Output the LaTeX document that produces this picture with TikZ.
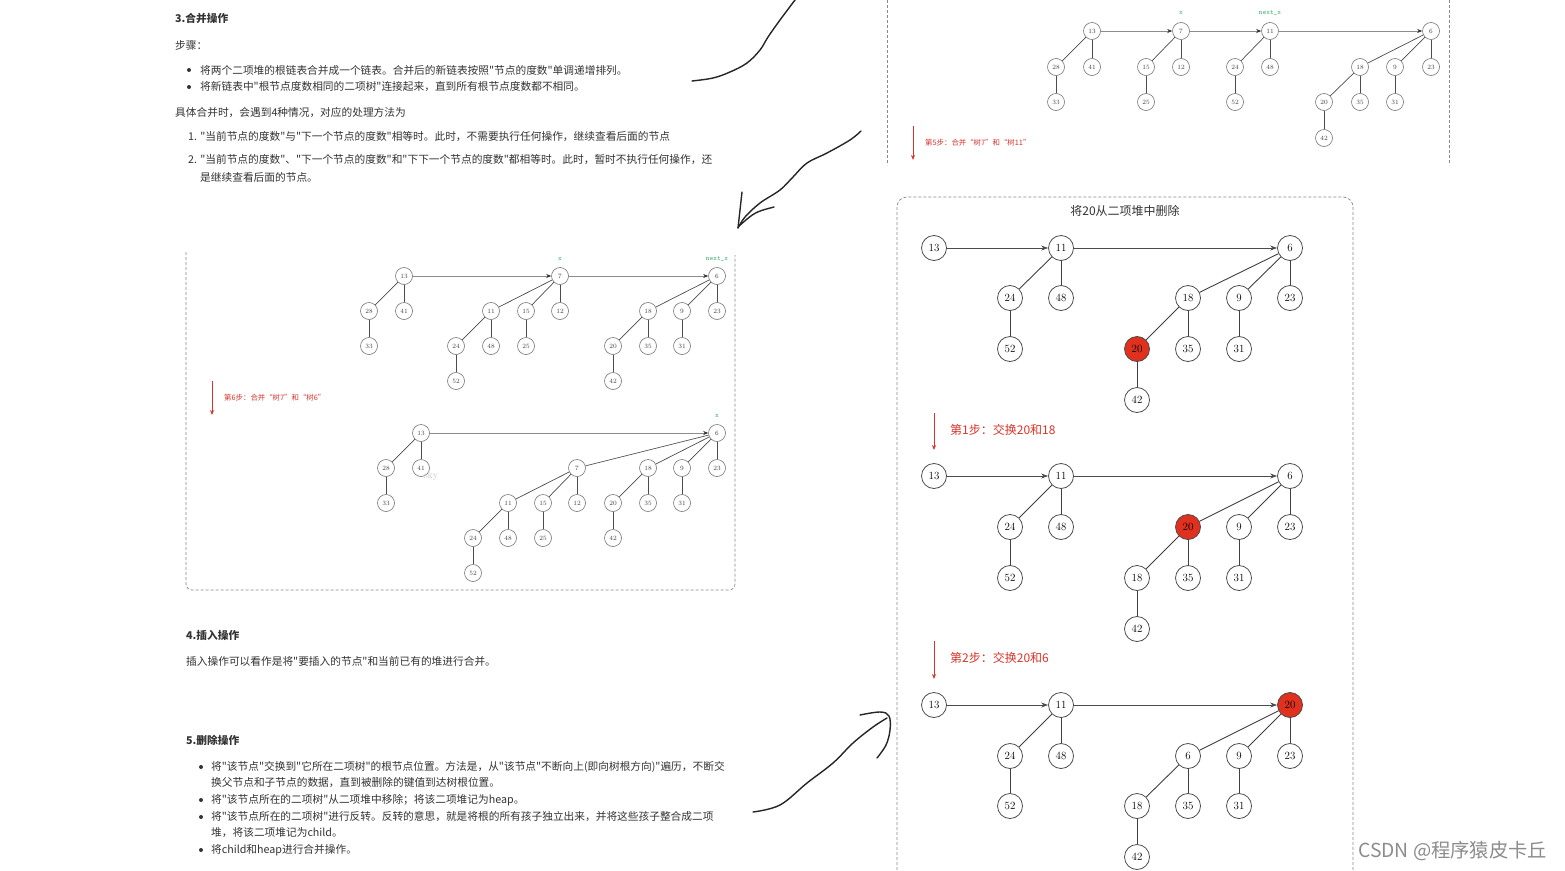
\documentclass[tikz,border=0pt]{standalone}
\usepackage{fontspec}
\newfontfamily\cjk{Noto Sans CJK SC}
\usetikzlibrary{arrows.meta}
\definecolor{txt}{HTML}{333333}
\definecolor{grn}{HTML}{3CB371}
\definecolor{stepred}{HTML}{D9352B}
\definecolor{nodered}{HTML}{E0301E}
\definecolor{dashc}{HTML}{888888}
\tikzset{
 sn/.style={circle,draw=black!55,line width=0.6pt,minimum size=17pt,inner sep=0pt,fill=white,font=\fontsize{6.5}{7}\selectfont,text=black!75},
 bn/.style={circle,draw=black!70,line width=0.8pt,minimum size=25pt,inner sep=0pt,fill=white,font=\fontsize{11}{11}\selectfont},
 rn/.style={bn,fill=nodered},
 se/.style={draw=black!70,line width=0.7pt},
 be/.style={draw=black!75,line width=0.9pt},
 sa/.style={draw=black!45,line width=0.6pt,-{Stealth[length=5pt,width=4pt,black!80]}},
 ba/.style={draw=black!70,line width=0.7pt,-{Stealth[length=7pt,width=5pt]}},
 stp/.style={draw=stepred,line width=0.9pt,-{Stealth[length=5pt,width=4pt]}},
 lbl/.style={anchor=west,text=txt,font=\cjk\fontsize{10.7}{10.7}\selectfont,inner sep=0pt},
 hd/.style={lbl,font=\cjk\bfseries\fontsize{10.7}{10.7}\selectfont},
 gl/.style={text=grn,font=\ttfamily\fontsize{7}{7}\selectfont,inner sep=0pt},
 sl/.style={anchor=west,text=stepred,font=\cjk\fontsize{7.4}{7.4}\selectfont,inner sep=0pt},
 bl/.style={anchor=west,text=stepred,font=\cjk\fontsize{12}{12}\selectfont,inner sep=0pt},
 bx/.style={draw=dashc,line width=0.7pt,dash pattern=on 3pt off 2pt},
 pen/.style={draw=black!85,line width=1.4pt,line cap=round,line join=round},
 bul/.style={circle,fill=txt,inner sep=0pt,minimum size=4pt}
}
\begin{document}
\begin{tikzpicture}[x=1pt,y=-1pt]
\useasboundingbox (0,0) rectangle (1565,870);
\fill[white] (0,0) rectangle (1565,870);

% ---------- top-left text ----------
\node[hd] (h3) at (175,18) {3.合并操作};
\node[lbl] (bz) at (175,45) {步骤：};
\node[bul] (d1) at (189,70) {};
\node[lbl] (t1) at (200,70) {将两个二项堆的根链表合并成一个链表。合并后的新链表按照"节点的度数"单调递增排列。};
\node[bul] (d2) at (189,87) {};
\node[lbl] (t2) at (200,87) {将新链表中"根节点度数相同的二项树"连接起来，直到所有根节点度数都不相同。};
\node[lbl] (t3) at (175,113) {具体合并时，会遇到4种情况，对应的处理方法为};
\node[lbl] (t4) at (188,137) {1. "当前节点的度数"与"下一个节点的度数"相等时。此时，不需要执行任何操作，继续查看后面的节点};
\node[lbl] (t5) at (188,160) {2. "当前节点的度数"、"下一个节点的度数"和"下下一个节点的度数"都相等时。此时，暂时不执行任何操作，还};
\node[lbl] (t6) at (200,177) {是继续查看后面的节点。};

% ---------- left dashed box ----------
\draw[bx,rounded corners=6pt] (186,252) -- (186,590) -- (735,590) -- (735,255);

% tree A
\node[sn] (a13) at (404,276) {13};
\node[sn] (a28) at (369,311) {28};
\node[sn] (a41) at (404,311) {41};
\node[sn] (a33) at (369,346) {33};
\node[sn] (a7) at (560,276) {7};
\node[sn] (a11) at (491,311) {11};
\node[sn] (a15) at (526,311) {15};
\node[sn] (a12) at (560,311) {12};
\node[sn] (a24) at (456,346) {24};
\node[sn] (a48) at (491,346) {48};
\node[sn] (a52) at (456,381) {52};
\node[sn] (a25) at (526,346) {25};
\node[sn] (a6) at (717,276) {6};
\node[sn] (a18) at (648,311) {18};
\node[sn] (a9) at (682,311) {9};
\node[sn] (a23) at (717,311) {23};
\node[sn] (a20) at (613,346) {20};
\node[sn] (a35) at (648,346) {35};
\node[sn] (a42) at (613,381) {42};
\node[sn] (a31) at (682,346) {31};
\draw[sa] (a13) -- (a7);
\draw[sa] (a7) -- (a6);
\draw[se] (a13) -- (a28); \draw[se] (a13) -- (a41); \draw[se] (a28) -- (a33);
\draw[se] (a7) -- (a11); \draw[se] (a7) -- (a15); \draw[se] (a7) -- (a12);
\draw[se] (a11) -- (a24); \draw[se] (a11) -- (a48); \draw[se] (a24) -- (a52); \draw[se] (a15) -- (a25);
\draw[se] (a6) -- (a18); \draw[se] (a6) -- (a9); \draw[se] (a6) -- (a23);
\draw[se] (a18) -- (a20); \draw[se] (a18) -- (a35); \draw[se] (a20) -- (a42); \draw[se] (a9) -- (a31);
\node[gl] (ax) at (560,259) {x};
\node[gl] (anx) at (717,259) {next\_x};
\coordinate (s6a) at (212,381); \coordinate (s6b) at (212,415);
\draw[stp] (s6a) -- (s6b);
\node[sl] (s6l) at (224,398) {第6步：合并“树7”和“树6”};

% tree B
\node[sn] (b13) at (421,433) {13};
\node[sn] (b28) at (386,468) {28};
\node[sn] (b41) at (421,468) {41};
\node[sn] (b33) at (386,503) {33};
\node[sn] (b6) at (717,433) {6};
\node[sn] (b7) at (577,468) {7};
\node[sn] (b18) at (648,468) {18};
\node[sn] (b9) at (682,468) {9};
\node[sn] (b23) at (717,468) {23};
\node[sn] (b11) at (508,503) {11};
\node[sn] (b15) at (543,503) {15};
\node[sn] (b12) at (577,503) {12};
\node[sn] (b24) at (473,538) {24};
\node[sn] (b48) at (508,538) {48};
\node[sn] (b52) at (473,573) {52};
\node[sn] (b25) at (543,538) {25};
\node[sn] (b20) at (613,503) {20};
\node[sn] (b35) at (648,503) {35};
\node[sn] (b42) at (613,538) {42};
\node[sn] (b31) at (682,503) {31};
\draw[sa] (b13) -- (b6);
\draw[se] (b13) -- (b28); \draw[se] (b13) -- (b41); \draw[se] (b28) -- (b33);
\draw[se] (b6) -- (b7); \draw[se] (b6) -- (b18); \draw[se] (b6) -- (b9); \draw[se] (b6) -- (b23);
\draw[se] (b7) -- (b11); \draw[se] (b7) -- (b15); \draw[se] (b7) -- (b12);
\draw[se] (b11) -- (b24); \draw[se] (b11) -- (b48); \draw[se] (b24) -- (b52); \draw[se] (b15) -- (b25);
\draw[se] (b18) -- (b20); \draw[se] (b18) -- (b35); \draw[se] (b20) -- (b42); \draw[se] (b9) -- (b31);
\node[gl] (bxl) at (717,416) {x};
\node[text=black!22,font=\fontsize{10}{10}\selectfont,inner sep=0pt] (sky) at (431,476) {sky};

% ---------- bottom-left text ----------
\node[hd] (h4) at (186,635) {4.插入操作};
\node[lbl] (u1) at (186,661) {插入操作可以看作是将"要插入的节点"和当前已有的堆进行合并。};
\node[hd] (h5) at (186,740) {5.删除操作};
\node[bul] (e1) at (201,767) {};
\node[lbl] (u2) at (211,767) {将"该节点"交换到"它所在二项树"的根节点位置。方法是，从"该节点"不断向上(即向树根方向)"遍历，不断交};
\node[lbl] (u3) at (211,783) {换父节点和子节点的数据，直到被删除的键值到达树根位置。};
\node[bul] (e2) at (201,800) {};
\node[lbl] (u4) at (211,800) {将"该节点所在的二项树"从二项堆中移除；将该二项堆记为heap。};
\node[bul] (e3) at (201,817) {};
\node[lbl] (u5) at (211,817) {将"该节点所在的二项树"进行反转。反转的意思，就是将根的所有孩子独立出来，并将这些孩子整合成二项};
\node[lbl] (u6) at (211,833) {堆，将该二项堆记为child。};
\node[bul] (e4) at (201,850) {};
\node[lbl] (u7) at (211,850) {将child和heap进行合并操作。};

% ---------- top-right partial box ----------
\draw[bx] (887,0) -- (887,165);
\draw[bx] (1449,0) -- (1449,165);
\node[sn] (c13) at (1092,31) {13};
\node[sn] (c28) at (1056,67) {28};
\node[sn] (c41) at (1092,67) {41};
\node[sn] (c33) at (1056,102) {33};
\node[sn] (c7) at (1181,31) {7};
\node[sn] (c15) at (1146,67) {15};
\node[sn] (c12) at (1181,67) {12};
\node[sn] (c25) at (1146,102) {25};
\node[sn] (c11) at (1270,31) {11};
\node[sn] (c24) at (1235,67) {24};
\node[sn] (c48) at (1270,67) {48};
\node[sn] (c52) at (1235,102) {52};
\node[sn] (c6) at (1431,31) {6};
\node[sn] (c18) at (1360,67) {18};
\node[sn] (c9) at (1395,67) {9};
\node[sn] (c23) at (1431,67) {23};
\node[sn] (c20) at (1324,102) {20};
\node[sn] (c35) at (1360,102) {35};
\node[sn] (c42) at (1324,138) {42};
\node[sn] (c31) at (1395,102) {31};
\draw[sa] (c13) -- (c7);
\draw[sa] (c7) -- (c11);
\draw[sa] (c11) -- (c6);
\draw[se] (c13) -- (c28); \draw[se] (c13) -- (c41); \draw[se] (c28) -- (c33);
\draw[se] (c7) -- (c15); \draw[se] (c7) -- (c12); \draw[se] (c15) -- (c25);
\draw[se] (c11) -- (c24); \draw[se] (c11) -- (c48); \draw[se] (c24) -- (c52);
\draw[se] (c6) -- (c18); \draw[se] (c6) -- (c9); \draw[se] (c6) -- (c23);
\draw[se] (c18) -- (c20); \draw[se] (c18) -- (c35); \draw[se] (c20) -- (c42); \draw[se] (c9) -- (c31);
\node[gl] (cx) at (1181,13) {x};
\node[gl] (cnx) at (1270,13) {next\_x};
\coordinate (s5a) at (913,126); \coordinate (s5b) at (913,160);
\draw[stp] (s5a) -- (s5b);
\node[sl] (s5l) at (925,143) {第5步：合并“树7”和“树11”};

% ---------- right big box ----------
\draw[bx,rounded corners=10pt] (897,870) -- (897,197) -- (1353,197) -- (1353,870);
\node[text=txt,font=\cjk\fontsize{12}{12}\selectfont,inner sep=0pt] (ttl) at (1125,211) {将20从二项堆中删除};

% tree D
\node[bn] (d13) at (934,248) {13};
\node[bn] (d11) at (1061,248) {11};
\node[bn] (d6) at (1290,248) {6};
\node[bn] (d24) at (1010,298) {24};
\node[bn] (d48) at (1061,298) {48};
\node[bn] (d52) at (1010,349) {52};
\node[bn] (d18) at (1188,298) {18};
\node[bn] (d9) at (1239,298) {9};
\node[bn] (d23) at (1290,298) {23};
\node[rn] (d20) at (1137,349) {20};
\node[bn] (d35) at (1188,349) {35};
\node[bn] (d31) at (1239,349) {31};
\node[bn] (d42) at (1137,400) {42};
\draw[ba] (d13) -- (d11); \draw[ba] (d11) -- (d6);
\draw[be] (d11) -- (d24); \draw[be] (d11) -- (d48); \draw[be] (d24) -- (d52);
\draw[be] (d6) -- (d18); \draw[be] (d6) -- (d9); \draw[be] (d6) -- (d23);
\draw[be] (d18) -- (d20); \draw[be] (d18) -- (d35); \draw[be] (d20) -- (d42); \draw[be] (d9) -- (d31);
\coordinate (s1a) at (934,413); \coordinate (s1b) at (934,450);
\draw[stp] (s1a) -- (s1b);
\node[bl] (s1l) at (950,430) {第1步：交换20和18};

% tree E
\node[bn] (e13) at (934,476) {13};
\node[bn] (e11) at (1061,476) {11};
\node[bn] (e6) at (1290,476) {6};
\node[bn] (e24) at (1010,527) {24};
\node[bn] (e48) at (1061,527) {48};
\node[bn] (e52) at (1010,578) {52};
\node[rn] (e20) at (1188,527) {20};
\node[bn] (e9) at (1239,527) {9};
\node[bn] (e23) at (1290,527) {23};
\node[bn] (e18) at (1137,578) {18};
\node[bn] (e35) at (1188,578) {35};
\node[bn] (e31) at (1239,578) {31};
\node[bn] (e42) at (1137,629) {42};
\draw[ba] (e13) -- (e11); \draw[ba] (e11) -- (e6);
\draw[be] (e11) -- (e24); \draw[be] (e11) -- (e48); \draw[be] (e24) -- (e52);
\draw[be] (e6) -- (e20); \draw[be] (e6) -- (e9); \draw[be] (e6) -- (e23);
\draw[be] (e20) -- (e18); \draw[be] (e20) -- (e35); \draw[be] (e18) -- (e42); \draw[be] (e9) -- (e31);
\coordinate (s2a) at (934,641); \coordinate (s2b) at (934,679);
\draw[stp] (s2a) -- (s2b);
\node[bl] (s2l) at (950,658) {第2步：交换20和6};

% tree F
\node[bn] (f13) at (934,705) {13};
\node[bn] (f11) at (1061,705) {11};
\node[rn] (f20) at (1290,705) {20};
\node[bn] (f24) at (1010,756) {24};
\node[bn] (f48) at (1061,756) {48};
\node[bn] (f52) at (1010,806) {52};
\node[bn] (f6) at (1188,756) {6};
\node[bn] (f9) at (1239,756) {9};
\node[bn] (f23) at (1290,756) {23};
\node[bn] (f18) at (1137,806) {18};
\node[bn] (f35) at (1188,806) {35};
\node[bn] (f31) at (1239,806) {31};
\node[bn] (f42) at (1137,857) {42};
\draw[ba] (f13) -- (f11); \draw[ba] (f11) -- (f20);
\draw[be] (f11) -- (f24); \draw[be] (f11) -- (f48); \draw[be] (f24) -- (f52);
\draw[be] (f20) -- (f6); \draw[be] (f20) -- (f9); \draw[be] (f20) -- (f23);
\draw[be] (f6) -- (f18); \draw[be] (f6) -- (f35); \draw[be] (f18) -- (f42); \draw[be] (f9) -- (f31);

% ---------- watermark ----------
\node[anchor=west,text=black!45,font=\cjk\fontsize{19.3}{19.3}\selectfont,inner sep=0pt] (wm) at (1358,851) {CSDN @程序猿皮卡丘};

% ---------- freehand pen strokes ----------
\draw[pen] plot[smooth,tension=0.6] coordinates {(795,0) (780,20) (768,37) (760,50) (747,63) (730,72) (713,78) (692,81)};
\draw[pen] plot[smooth,tension=0.6] coordinates {(861,131) (850,140) (827,153) (807,163) (793,177) (780,190) (760,203) (745,217) (738,228)};
\draw[pen] (742,192) .. controls (740,210) .. (738,228);
\draw[pen] (739,226) .. controls (755,212) .. (774,207);
\draw[pen] plot[smooth,tension=0.6] coordinates {(753,812) (780,805) (807,783) (833,763) (853,743) (873,727) (887,718)};
\draw[pen] plot[smooth,tension=0.6] coordinates {(860,715) (880,712) (889,716) (890,730) (886,745) (877,758)};
\end{tikzpicture}
\end{document}
